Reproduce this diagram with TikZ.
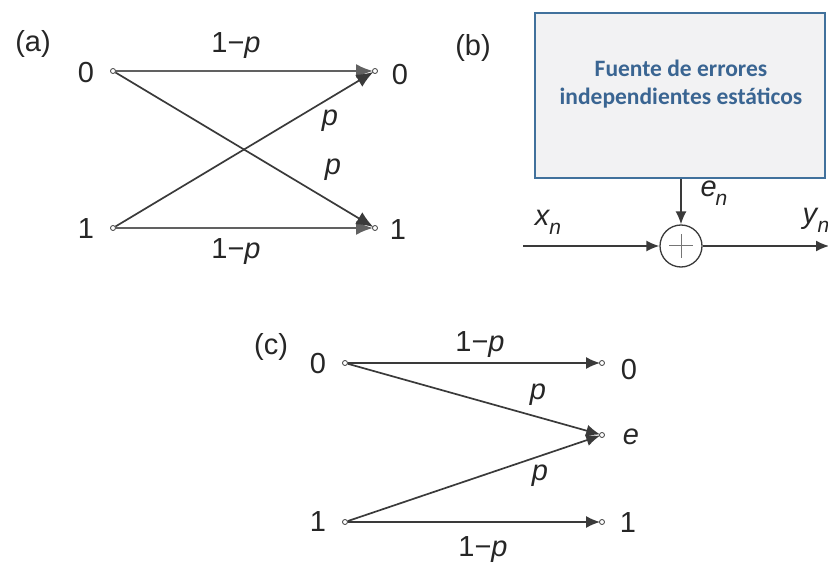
\documentclass[tikz,border=0pt]{standalone}
\usepackage{fontspec}
\setmainfont{Liberation Sans}
\newfontfamily\boxfont{Carlito}
\usetikzlibrary{arrows.meta}
\definecolor{boxborder}{HTML}{41719C}
\definecolor{boxfill}{HTML}{F2F2F3}
\definecolor{boxtext}{HTML}{3A6592}
\definecolor{ln}{HTML}{3A3A3A}
\newcommand\varsub[2]{\textit{#1}\kern-1pt\raisebox{-0.3em}{\fontsize{21}{21}\selectfont\textit{#2}}}
\begin{document}
\begin{tikzpicture}[x=1pt,y=-1pt,
  lbl/.style={font=\fontsize{29}{29}\selectfont, inner sep=0pt, text=black!85},
  dotn/.style={circle, draw=ln, fill=white, line width=0.8pt, minimum size=5pt, inner sep=0pt},
  chA/.style={draw=ln, line width=1.7pt, -{Latex[length=17pt,width=14pt]}, shorten >=-1pt},
  chAh/.style={draw=ln!80, line width=2.4pt, -{Latex[length=17pt,width=14pt]}, shorten >=-1pt},
  chC/.style={draw=ln, line width=1.7pt, -{Latex[length=14pt,width=12pt]}, shorten >=-1pt},
  sig/.style={draw=ln, line width=1.5pt, -{Latex[length=13pt,width=11pt]}},
]
\useasboundingbox (0,0) rectangle (828,564);

% ---------- (a) ----------
\node[lbl] (la) at (33,44) {(a)};
\node[dotn] (a0) at (113,71) {};
\node[dotn] (a1) at (113,228) {};
\node[dotn] (b0) at (375,71) {};
\node[dotn] (b1) at (375,228) {};
\node[lbl] (ta0) at (86,73) {0};
\node[lbl] (ta1) at (86,229) {1};
\node[lbl] (tb0) at (400,75) {0};
\node[lbl] (tb1) at (398,230) {1};
\draw[chAh] (a0) -- (b0);
\draw[chAh] (a1) -- (b1);
\draw[chA] (a0) -- (b1);
\draw[chA] (a1) -- (b0);
\node[lbl, anchor=base] (pa1) at (236,53) {1−\textit{p}};
\node[lbl, anchor=base] (pa2) at (236,259) {1−\textit{p}};
\node[lbl] (pa3) at (330,121) {\textit{p}};
\node[lbl] (pa4) at (333,170) {\textit{p}};

% ---------- (b) ----------
\node[lbl] (lb) at (473,48) {(b)};
\node[draw=boxborder, fill=boxfill, line width=2.6pt, minimum width=290pt, minimum height=165pt, inner sep=0pt] (src) at (680,95.5) {};
\node[font=\boxfont\bfseries\fontsize{23.5}{28}\selectfont, text=boxtext, inner sep=0pt, anchor=base] (srct1) at (681,77) {Fuente de errores};
\node[font=\boxfont\bfseries\fontsize{23.5}{28}\selectfont, text=boxtext, inner sep=0pt, anchor=base] (srct2) at (681,105) {independientes estáticos};
\node[circle, draw=ln, line width=1.3pt, minimum size=42pt, inner sep=0pt] (add) at (681,246) {};
\draw[draw=ln!70, line width=1pt] ([xshift=-12pt]add.center) -- ([xshift=12pt]add.center);
\draw[draw=ln!70, line width=1pt] ([yshift=-12pt]add.center) -- ([yshift=12pt]add.center);
\coordinate (xin) at (523,246);
\coordinate (yout) at (829,246);
\draw[sig] (src.south -| add.north) -- (add.north);
\draw[sig] (xin) -- (add.west);
\draw[sig] (add.east) -- (yout);
\node[lbl] (en) at (714,193) {\varsub{e}{n}};
\node[lbl] (xn) at (548,222) {\varsub{x}{n}};
\node[lbl] (yn) at (816,220) {\varsub{y}{n}};

% ---------- (c) ----------
\node[lbl] (lc) at (271,347) {(c)};
\node[dotn] (c0) at (345,363) {};
\node[dotn] (c1) at (345,522) {};
\node[dotn] (d0) at (602,363) {};
\node[dotn] (de) at (602,435) {};
\node[dotn] (d1) at (602,522) {};
\node[lbl] (tc0) at (318,364) {0};
\node[lbl] (tc1) at (318,522) {1};
\node[lbl] (td0) at (629,370) {0};
\node[lbl] (tde) at (631,437) {\textit{e}};
\node[lbl] (td1) at (628,523) {1};
\draw[chC] (c0) -- (d0);
\draw[chC] (c0) -- (de);
\draw[chC] (c1) -- (de);
\draw[chC] (c1) -- (d1);
\node[lbl, anchor=base] (pc1) at (480,352) {1−\textit{p}};
\node[lbl, anchor=base] (pc2) at (483,556) {1−\textit{p}};
\node[lbl] (pc3) at (538,395) {\textit{p}};
\node[lbl] (pc4) at (540,476) {\textit{p}};
\end{tikzpicture}
\end{document}
